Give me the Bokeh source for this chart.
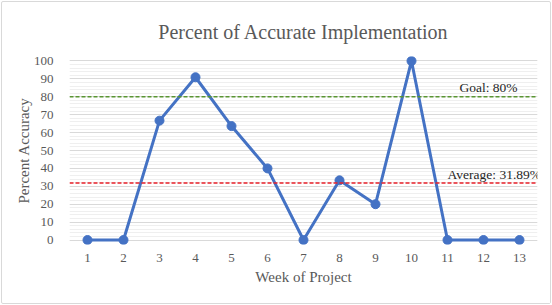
from bokeh.plotting import figure
from bokeh.models import Range1d, FixedTicker, Span, Label, ColumnDataSource
from bokeh.embed import file_html
from bokeh.resources import INLINE

weeks = [1, 2, 3, 4, 5, 6, 7, 8, 9, 10, 11, 12, 13]
accuracy = [0, 0, 66.67, 90.91, 63.64, 40, 0, 33.33, 20, 100, 0, 0, 0]
goal = 80
average = 31.89
y_ticks = [0, 10, 20, 30, 40, 50, 60, 70, 80, 90, 100]

FONT = "Liberation Serif"
GREY = "#595959"

p = figure(width=550, height=303, output_backend="svg", toolbar_location=None,
           x_range=Range1d(0.5, 13.5), y_range=Range1d(-2.5, 102.5),
           min_border_left=67, min_border_right=15, min_border_top=54, min_border_bottom=61,
           title="Percent of Accurate Implementation")
p.styles = {"border": "1px solid #d9d9d9", "border-radius": "2px", "margin": "1px"}
p.outline_line_color = None
p.background_fill_color = "white"
p.border_fill_color = "white"

p.title.align = "center"
p.title.text_font = FONT
p.title.text_font_size = "20px"
p.title.text_font_style = "normal"
p.title.text_color = GREY
p.title.standoff = 28

p.xaxis.ticker = FixedTicker(ticks=weeks)
p.yaxis.ticker = FixedTicker(ticks=y_ticks, minor_ticks=list(range(0, 101, 2)))
for ax in (p.xaxis[0], p.yaxis[0]):
    ax.major_label_text_font = FONT
    ax.major_label_text_font_size = "13px"
    ax.major_label_text_color = GREY
    ax.axis_label_text_font = FONT
    ax.axis_label_text_font_size = "15px"
    ax.axis_label_text_font_style = "normal"
    ax.axis_label_text_color = GREY
    ax.major_tick_line_color = None
    ax.minor_tick_line_color = None
    ax.axis_line_color = None
p.xaxis.axis_label = "Week of Project"
p.yaxis.axis_label = "Percent Accuracy"
p.xaxis.major_label_standoff = 3
p.xaxis.axis_label_standoff = 4
p.yaxis.major_label_standoff = 10
p.yaxis.axis_label_standoff = -1

p.xgrid.grid_line_color = None
p.ygrid.grid_line_color = "#d9d9d9"
p.ygrid.minor_grid_line_color = "#efefef"
p.ygrid.bounds = (0, 100)

p.add_layout(Span(location=goal, dimension="width", line_color="#5a9632",
                  line_width=1.5, line_dash="4 2"))
p.add_layout(Span(location=average, dimension="width", line_color="#e8202a",
                  line_width=1.5, line_dash="4 2"))

src = ColumnDataSource(dict(x=weeks, y=accuracy))
p.line("x", "y", source=src, line_color="#4472C4", line_width=3)
p.scatter("x", "y", source=src, size=9, fill_color="#4472C4", line_color="#4472C4")

p.add_layout(Label(x=12.14, y=goal, text=f"Goal: {goal}%", text_font=FONT,
                   text_font_size="13.5px", text_color="#262626", text_align="center",
                   text_baseline="bottom", y_offset=2))
p.add_layout(Label(x=12.3, y=average, text=f"Average: {average}%", text_font=FONT,
                   text_font_size="13.5px", text_color="#262626", text_align="center",
                   text_baseline="bottom", y_offset=1))

open("out.html", "w").write(file_html(p, INLINE))
